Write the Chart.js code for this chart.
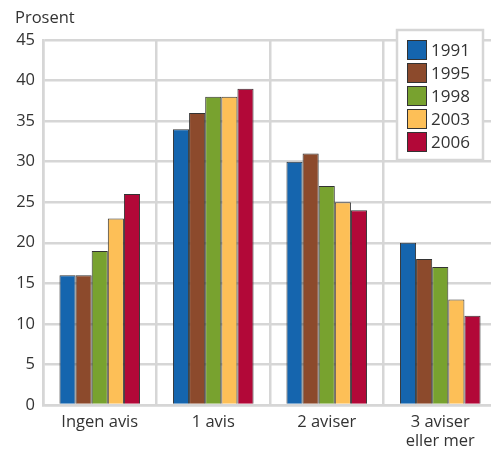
<!DOCTYPE html>
<html>
<head>
<meta charset="utf-8">
<script src="https://cdn.jsdelivr.net/npm/chart.js@4"></script>
<style>
  html, body { margin: 0; padding: 0; background: #fff; overflow: hidden; }
  #wrap { position: relative; width: 500px; height: 449px; }
</style>
</head>
<body>
<div id="wrap"><canvas id="myChart"></canvas></div>
<script>
const categories = ["Ingen avis", "1 avis", "2 aviser", ["3 aviser", "eller mer"]];
const years = ["1991", "1995", "1998", "2003", "2006"];
const values1991 = [16, 34, 30, 20];
const values1995 = [16, 36, 31, 18];
const values1998 = [19, 38, 27, 17];
const values2003 = [23, 38, 25, 13];
const values2006 = [26, 39, 24, 11];
const yTicks = [0, 5, 10, 15, 20, 25, 30, 35, 40, 45];

const seriesValues = [values1991, values1995, values1998, values2003, values2006];
const colors = ["#1565ae", "#8c4a2c", "#78a22f", "#fdbf57", "#b20838"];
const fontFamily = "'Open Sans', 'Noto Sans', sans-serif";
const gridColor = "#d6d6d6";

// "Prosent" above the y axis and the boxed legend in the top right corner
const overlay = {
  id: "overlay",
  afterDraw(chart) {
    const ctx = chart.ctx;
    ctx.save();
    ctx.fillStyle = "#333";
    ctx.font = "16.5px " + fontFamily;
    ctx.textBaseline = "middle";
    ctx.textAlign = "left";
    ctx.fillText("Prosent", 15, 18);

    const bx = 397, by = 30, bw = 86, bh = 130;
    ctx.fillStyle = "#fff";
    ctx.fillRect(bx, by, bw, bh);
    ctx.strokeStyle = gridColor;
    ctx.lineWidth = 2.5;
    ctx.strokeRect(bx, by, bw, bh);

    chart.data.datasets.forEach((ds, i) => {
      const y = by + 10 + i * 23;
      ctx.fillStyle = ds.backgroundColor;
      ctx.fillRect(bx + 10, y, 20, 20);
      ctx.strokeStyle = "#333";
      ctx.lineWidth = 1;
      ctx.strokeRect(bx + 10.5, y + 0.5, 19, 19);
      ctx.fillStyle = "#333";
      ctx.font = "17px " + fontFamily;
      ctx.fillText(ds.label, bx + 34, y + 11);
    });
    ctx.restore();
  },
};

const ctx = document.getElementById("myChart").getContext("2d");
const myChart = new Chart(ctx, {
  type: "bar",
  data: {
    labels: categories,
    datasets: years.map((year, i) => ({
      label: year,
      data: seriesValues[i],
      backgroundColor: colors[i],
      borderColor: "#333",
      borderWidth: 1,
      categoryPercentage: 0.71,
      barPercentage: 1,
    })),
  },
  options: {
    responsive: true,
    maintainAspectRatio: false,
    animation: false,
    events: [],
    plugins: {
      legend: { display: false },
      tooltip: { enabled: false },
    },
    layout: {
      padding: { top: 40, right: 3, bottom: 0, left: 0 },
    },
    scales: {
      x: {
        grid: {
          color: gridColor,
          lineWidth: 2.5,
          drawTicks: false,
        },
        border: { color: gridColor, width: 2.5 },
        ticks: {
          color: "#333",
          padding: 8,
          font: { family: fontFamily, size: 16.5, lineHeight: 1.15 },
        },
        afterFit(scale) {
          scale.height = 44;
        },
      },
      y: {
        min: 0,
        max: 45,
        afterBuildTicks(scale) {
          scale.ticks = yTicks.map((v) => ({ value: v }));
        },
        grid: {
          color: gridColor,
          lineWidth: 2.5,
          drawTicks: false,
        },
        border: { color: gridColor, width: 2.5 },
        ticks: {
          color: "#333",
          padding: 8,
          font: { family: fontFamily, size: 16.5 },
        },
        afterFit(scale) {
          scale.width = 43;
        },
      },
    },
  },
  plugins: [overlay],
});
</script>
</body>
</html>
